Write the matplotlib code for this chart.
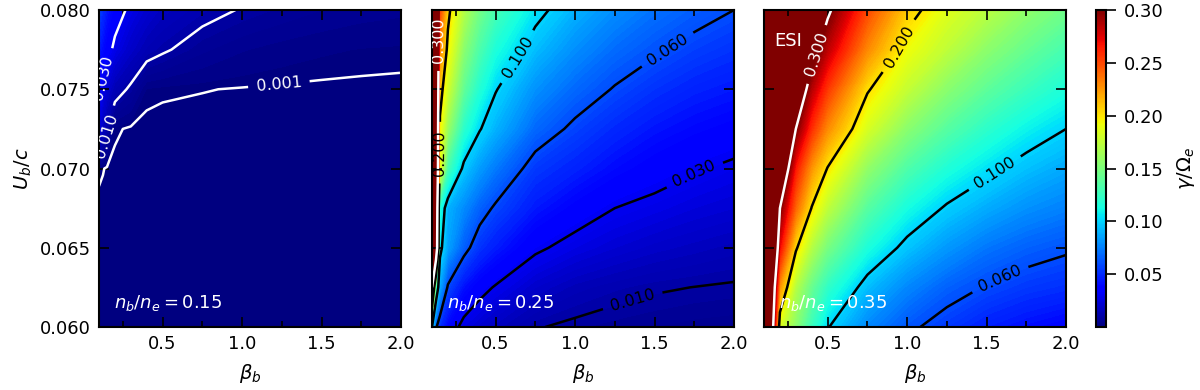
#!/usr/bin/env python3
"""
Growth rate maps gamma/Omega_e over (beta_b, U_b/c) for three beam densities
"""

import numpy as np
import matplotlib.pyplot as plt
from matplotlib import colors, cm

plt.rcParams['font.size'] = 13
plt.rcParams['font.family'] = 'DejaVu Sans'
plt.rcParams['mathtext.fontset'] = 'dejavusans'

# grid
beta_b = [0.10, 0.125, 0.15, 0.20, 0.30, 0.40, 0.50, 0.75, 1.00, 1.25, 1.50, 1.75, 2.00]
u_b = [0.060, 0.0625, 0.065, 0.0675, 0.070, 0.0725, 0.075, 0.0775, 0.080]

# gamma/Omega_e, one row per u_b value
gamma_015 = [
    [0, 0, 0, 0, 0, 0, 0, 0, 0, 0, 0, 0, 0],
    [0, 0, 0, 0, 0, 0, 0, 0, 0, 0, 0, 0, 0],
    [0, 0, 0, 0, 0, 0, 0, 0, 0, 0, 0, 0, 0],
    [0, 0, 0, 0, 0, 0, 0, 0, 0, 0, 0, 0, 0],
    [0.0018, 0.0012, 0.0006, 0.0003, 0.0001, 0, 0, 0, 0, 0, 0, 0, 0],
    [0.025, 0.017, 0.011, 0.0015, 0.0005, 0.0003, 0.0002, 0.0001, 0.00005, 0.00005, 0.00005, 0.00005, 0.00005],
    [0.032, 0.026, 0.021, 0.014, 0.0085, 0.0018, 0.0014, 0.0011, 0.00085, 0.0007, 0.0006, 0.00055, 0.0005],
    [0.045, 0.040, 0.035, 0.027, 0.019, 0.0135, 0.011, 0.0065, 0.0042, 0.003, 0.0023, 0.0019, 0.0017],
    [0.058, 0.050, 0.044, 0.036, 0.027, 0.021, 0.017, 0.0125, 0.0095, 0.0075, 0.006, 0.005, 0.0045],
]

gamma_025 = [
    [0.10, 0.062, 0.050, 0.038, 0.026, 0.021, 0.017, 0.0105, 0.0085, 0.007, 0.006, 0.005, 0.0045],
    [0.30, 0.12, 0.085, 0.058, 0.042, 0.034, 0.029, 0.020, 0.015, 0.0125, 0.0108, 0.0099, 0.0092],
    [0.45, 0.38, 0.105, 0.085, 0.065, 0.052, 0.045, 0.032, 0.026, 0.022, 0.019, 0.017, 0.015],
    [0.48, 0.40, 0.115, 0.090, 0.078, 0.066, 0.058, 0.044, 0.036, 0.030, 0.027, 0.024, 0.022],
    [0.50, 0.41, 0.19, 0.13, 0.096, 0.083, 0.073, 0.054, 0.047, 0.040, 0.035, 0.031, 0.028],
    [0.50, 0.42, 0.195, 0.16, 0.12, 0.101, 0.090, 0.068, 0.057, 0.049, 0.043, 0.039, 0.036],
    [0.50, 0.43, 0.21, 0.18, 0.14, 0.117, 0.101, 0.080, 0.068, 0.059, 0.052, 0.047, 0.044],
    [0.50, 0.44, 0.23, 0.195, 0.155, 0.132, 0.115, 0.093, 0.079, 0.069, 0.062, 0.056, 0.052],
    [0.50, 0.45, 0.25, 0.205, 0.17, 0.146, 0.130, 0.105, 0.090, 0.079, 0.071, 0.065, 0.060],
]

gamma_035 = [
    [0.45, 0.38, 0.32, 0.185, 0.155, 0.125, 0.101, 0.077, 0.063, 0.054, 0.046, 0.041, 0.037],
    [0.50, 0.42, 0.34, 0.225, 0.17, 0.142, 0.122, 0.093, 0.077, 0.066, 0.059, 0.054, 0.051],
    [0.50, 0.45, 0.38, 0.27, 0.203, 0.17, 0.148, 0.115, 0.095, 0.082, 0.072, 0.066, 0.062],
    [0.50, 0.48, 0.42, 0.30, 0.24, 0.199, 0.174, 0.136, 0.113, 0.098, 0.088, 0.080, 0.075],
    [0.50, 0.50, 0.45, 0.34, 0.265, 0.225, 0.199, 0.158, 0.133, 0.116, 0.104, 0.094, 0.087],
    [0.50, 0.50, 0.48, 0.38, 0.30, 0.258, 0.228, 0.183, 0.155, 0.136, 0.121, 0.109, 0.100],
    [0.50, 0.50, 0.50, 0.42, 0.33, 0.285, 0.255, 0.202, 0.176, 0.155, 0.139, 0.126, 0.115],
    [0.50, 0.50, 0.50, 0.46, 0.36, 0.312, 0.283, 0.229, 0.192, 0.174, 0.156, 0.142, 0.130],
    [0.50, 0.50, 0.50, 0.50, 0.39, 0.34, 0.305, 0.25, 0.208, 0.186, 0.172, 0.157, 0.145],
]

density_labels = ['0.15', '0.25', '0.35']
contour_levels = [0.001, 0.01, 0.03, 0.06, 0.1, 0.2, 0.3]
cbar_ticks = [0.05, 0.10, 0.15, 0.20, 0.25, 0.30]
x_ticks = [0.5, 1.0, 1.5, 2.0]
y_ticks = [0.060, 0.065, 0.070, 0.075, 0.080]

# where the contour labels sit in each panel (beta_b, U_b/c)
label_spots = [
    [(0.14, 0.0757), (0.14, 0.0721), (1.23, 0.0755)],
    [(0.12, 0.0781), (0.16, 0.0710), (0.63, 0.0771), (1.57, 0.0777),
     (1.74, 0.0699), (1.35, 0.0621)],
    [(0.43, 0.0772), (0.93, 0.0778), (1.54, 0.0699), (1.59, 0.0629)],
]


def style_axes(ax, show_ylabels):
    ax.set_xlim(0.1, 2.0)
    ax.set_ylim(0.060, 0.080)
    ax.set_xticks(x_ticks)
    ax.set_xticks(np.arange(0.25, 2.0, 0.25), minor=True)
    ax.set_yticks(y_ticks)
    ax.xaxis.set_major_formatter(plt.FormatStrFormatter('%.1f'))
    ax.yaxis.set_major_formatter(plt.FormatStrFormatter('%.3f'))
    ax.tick_params(which='both', direction='in', top=True, right=True,
                   width=1.2, color='black')
    ax.tick_params(which='major', length=7, pad=6)
    ax.tick_params(which='minor', length=4)
    ax.set_xlabel(r'$\beta_b$', fontsize=14, labelpad=6)
    if show_ylabels:
        ax.set_ylabel(r'$U_b/c$', fontsize=14)
    else:
        ax.set_yticklabels([])
    for s in ax.spines.values():
        s.set_linewidth(1.5)


def main():
    fig = plt.figure(figsize=(12, 3.9), dpi=100)
    lefts = [0.0825, 0.36, 0.6367]
    fields = [gamma_015, gamma_025, gamma_035]

    norm = colors.Normalize(vmin=0.0, vmax=0.3)
    cmap = plt.get_cmap('jet')
    fill_levels = np.linspace(0.0, 0.3, 151)

    for i, (left, field) in enumerate(zip(lefts, fields)):
        ax = fig.add_axes([left, 0.1615, 0.2517, 0.8128])
        z = np.array(field)
        ax.contourf(beta_b, u_b, z, levels=fill_levels, cmap=cmap, norm=norm,
                    extend='both', antialiased=False)

        present = [l for l in contour_levels if z.min() < l < z.max()]
        if i == 0:
            line_colors = ['white'] * len(present)
        else:
            line_colors = ['white' if l >= 0.3 else 'black' for l in present]
        cs = ax.contour(beta_b, u_b, z, levels=present, colors=line_colors,
                        linewidths=1.8)
        ax.clabel(cs, fmt='%.3f', fontsize=11.5, inline=True, inline_spacing=8,
                  manual=label_spots[i])

        ax.text(0.05, 0.06, r'$n_b/n_e = $' + density_labels[i], color='white',
                fontsize=13, transform=ax.transAxes)
        if i == 2:
            ax.text(0.035, 0.885, 'ESI', color='white', fontsize=13,
                    transform=ax.transAxes)
        style_axes(ax, i == 0)

    cax = fig.add_axes([0.9133, 0.1615, 0.0085, 0.8128])
    sm = cm.ScalarMappable(norm=norm, cmap=cmap)
    cb = fig.colorbar(sm, cax=cax, ticks=cbar_ticks, format='%.2f')
    cb.ax.tick_params(length=7, width=1.2, labelsize=13, pad=6)
    cb.outline.set_linewidth(1.5)
    cb.set_label(r'$\gamma/\Omega_e$', fontsize=14, labelpad=8)

    fig.savefig('out.png', dpi=100)
    plt.close(fig)


if __name__ == '__main__':
    main()
